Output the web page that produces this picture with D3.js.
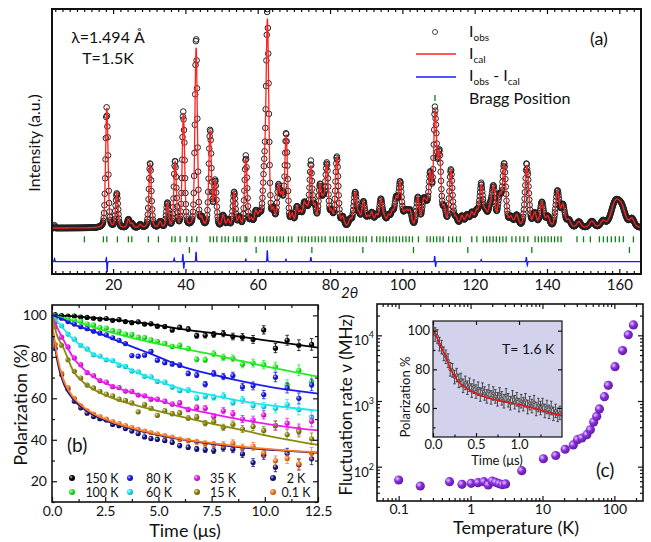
<!DOCTYPE html>
<html>
<head>
<meta charset="utf-8">
<script src="https://cdn.jsdelivr.net/npm/d3@7"></script>
<style>
  body { margin: 0; background: #fff; }
  text { font-family: Lato, "Open Sans", sans-serif; fill: #111; }
</style>
</head>
<body>
<div id="fig"></div>
<script>
// ---------------- panel (a): diffraction pattern ----------------
// peaks: [2theta, height (a.u.), fwhm (deg)]
const peaksA = [
  [18.26, 590, 0.8], [21.02, 165, 0.8], [24.23, 40, 0.8], [25.2, 20, 0.8], [27.5, 15, 0.8],
  [30.24, 315, 0.8], [33.0, 28, 0.8], [35.02, 118, 0.8], [37.15, 320, 0.8], [39.45, 555, 0.8],
  [42.96, 880, 0.8], [44.5, 35, 0.8], [46.83, 470, 0.85], [48.22, 220, 0.85], [50.43, 55, 0.85],
  [51.8, 35, 0.85], [53.47, 170, 0.85], [54.9, 45, 0.85], [56.71, 335, 0.85], [58.2, 35, 0.9],
  [59.47, 70, 0.9], [60.5, 55, 0.9], [61.77, 220, 0.9], [62.68, 995, 0.9], [64.3, 70, 0.9],
  [65.73, 185, 0.9], [66.67, 135, 0.9], [67.86, 440, 0.9], [69.5, 55, 0.9], [70.82, 90, 0.9],
  [71.8, 65, 0.9], [72.84, 100, 0.9], [73.6, 70, 0.9], [74.69, 290, 0.9], [75.8, 90, 0.9],
  [77.2, 190, 0.9], [78.1, 110, 0.9], [79.1, 300, 0.95], [80.4, 65, 0.95], [81.88, 340, 0.95],
  [83.5, 45, 0.95], [85.56, 35, 1.0], [86.94, 165, 1.0], [88.0, 55, 1.0], [89.24, 120, 1.0],
  [90.5, 45, 1.0], [91.56, 65, 1.0], [92.8, 55, 1.0], [94.05, 130, 1.0], [95.0, 40, 1.0],
  [96.15, 50, 1.0], [97.2, 65, 1.0], [98.28, 130, 1.0], [99.39, 210, 1.0], [100.6, 50, 1.0],
  [101.3, 55, 1.0], [102.16, 70, 1.0], [104.29, 140, 1.0], [105.84, 110, 1.0], [106.6, 80, 1.0],
  [107.69, 240, 1.0], [109.07, 545, 1.0], [110.26, 340, 1.0], [111.6, 80, 1.0], [113.42, 275, 1.0],
  [114.8, 40, 1.1], [116.46, 50, 1.1], [117.9, 55, 1.1], [119.22, 65, 1.1], [120.5, 70, 1.1],
  [121.8, 195, 1.1], [123.0, 65, 1.1], [124.2, 80, 1.1], [125.2, 185, 1.1], [126.9, 140, 1.1],
  [128.16, 300, 1.1], [130.0, 45, 1.2], [131.6, 55, 1.2], [134.44, 300, 1.2], [136.6, 65, 1.2],
  [138.59, 120, 1.2], [140.2, 50, 1.2], [142.9, 175, 1.2], [144.4, 105, 1.2], [146.0, 35, 1.3],
  [148.8, 28, 1.3], [152.42, 30, 1.5], [155.5, 30, 1.5], [158.86, 115, 2.8], [160.72, 80, 2.5],
  [163.5, 40, 1.5]
];
// Iobs - Ical spikes: [2theta, amplitude]
const residA = [
  [3.8, 14], [18.15, 22], [18.35, -52], [36.9, 16], [39.3, 38], [39.55, -34], [42.95, 48],
  [56.7, 12], [62.65, 55], [67.8, 12], [74.7, 22], [108.95, 28], [109.2, -26], [121.8, 10],
  [134.3, 22], [134.55, -18]
];
const braggMain = [
  12.06, 17.32, 18.26, 21.19, 24.23, 25.17, 29.76, 32.53, 36.24, 37.15, 38.53, 40.39, 41.77, 43.15,
  46.83, 47.75, 48.69, 50.07, 50.98, 51.89, 53.28, 54.22, 55.13, 56.51, 56.98, 59.28, 60.66, 61.58,
  62.52, 63.43, 64.34, 65.28, 66.2, 67.11, 68.49, 69.43, 71.26, 72.2, 73.11, 74.02, 74.97, 75.88,
  76.79, 77.73, 78.64, 80.03, 80.94, 81.88, 82.8, 83.7, 84.6, 85.5, 86.4, 87.3, 88.2, 89.1, 90.0,
  91.56, 92.9, 93.8, 94.7, 95.6, 96.5, 97.4, 98.3, 99.2, 100.1, 101.0, 101.9, 102.8, 104.45,
  106.8, 107.7, 108.6, 109.5, 110.4, 111.3, 112.8, 113.9, 115.0, 116.0, 119.2, 120.6, 122.4,
  123.3, 124.2, 125.1, 126.0, 126.9, 127.8, 128.7, 130.3, 131.4, 132.5, 133.6, 134.7, 136.7,
  137.6, 138.5, 139.4, 140.3, 141.2, 142.1, 143.0, 143.9, 148.3, 150.1, 152.0, 154.5, 155.6,
  156.7, 157.8, 158.9, 160.0, 161.1, 163.9
];
const braggSecond = [41.1, 59.56, 74.97, 89.07, 103.07, 118.1, 135.8, 162.8];
const ticksA = [20, 40, 60, 80, 100, 120, 140, 160];

// ---------------- panel (b): muSR polarization ----------------
const tempsB = ["150 K", "100 K", "80 K", "60 K", "35 K", "15 K", "2 K", "0.1 K"];
const colorsB = ["#000000", "#22ee22", "#1a1aee", "#1ae8ee", "#ee1aee", "#8a8a12", "#12128a", "#ff7a22"];
const timeB = [0.15, 0.45, 0.75, 1.05, 1.35, 1.65, 1.95, 2.25, 2.55, 2.85, 3.15, 3.45, 3.75, 4.05,
  4.35, 4.65, 4.95, 5.3, 5.65, 6.0, 6.4, 6.8, 7.2, 7.6, 8.05, 8.5, 8.95, 9.45, 9.95, 10.5, 11.05, 11.6, 12.2];
const errB = [0.3, 0.3, 0.35, 0.35, 0.4, 0.4, 0.45, 0.5, 0.5, 0.55, 0.6, 0.6, 0.65, 0.7, 0.75, 0.8,
  0.85, 0.9, 1.0, 1.05, 1.1, 1.2, 1.3, 1.4, 1.5, 1.6, 1.7, 1.9, 2.0, 2.2, 2.4, 2.6, 2.8];
const pol150K = [100.4, 99.9, 99.6, 99.7, 99.2, 99.0, 98.6, 98.2, 98.5, 97.6, 97.9, 97.0, 96.5, 96.9, 95.8,
  95.9, 94.8, 94.6, 93.0, 94.2, 93.4, 90.2, 90.4, 90.8, 91.2, 89.8, 89.5, 88.4, 93.0, 84.2, 88.0, 85.6, 86.0];
const pol100K = [99.9, 99.2, 98.8, 97.6, 97.2, 95.8, 95.4, 94.1, 93.9, 92.6, 92.3, 91.0, 90.8, 89.5, 89.3,
  88.2, 87.4, 86.5, 85.0, 85.6, 84.0, 78.8, 78.6, 81.5, 79.8, 79.3, 76.4, 77.0, 76.2, 75.2, 66.5, 73.5, 68.0];
const pol80K = [99.6, 98.6, 97.0, 95.8, 94.5, 93.6, 92.4, 91.4, 90.6, 89.2, 88.0, 86.4, 80.6, 80.3, 80.8,
  82.6, 78.4, 77.2, 76.6, 76.0, 72.0, 71.2, 66.8, 72.0, 70.5, 71.0, 65.5, 66.0, 61.8, 70.2, 65.0, 60.0, 66.5];
const pol60K = [98.5, 95.0, 91.0, 88.5, 85.6, 83.8, 81.0, 80.4, 78.6, 78.2, 76.0, 75.4, 73.2, 72.8, 70.6,
  70.4, 68.2, 67.8, 65.4, 63.8, 64.0, 60.2, 61.0, 60.5, 61.2, 58.0, 59.2, 56.5, 56.0, 55.2, 57.0, 54.6, 51.0];
const pol35K = [96.8, 89.5, 84.8, 79.5, 76.2, 72.4, 71.0, 68.6, 67.8, 65.6, 65.2, 63.5, 63.3, 61.6, 61.2,
  59.6, 59.6, 58.6, 57.2, 57.8, 54.6, 55.6, 55.2, 51.2, 54.0, 52.5, 50.0, 49.5, 52.0, 46.8, 48.0, 45.0, 49.0];
const pol15K = [94.5, 85.6, 78.6, 73.0, 69.8, 66.4, 65.0, 63.4, 62.0, 61.2, 59.6, 59.0, 57.8, 53.5, 57.0,
  55.2, 51.8, 54.0, 52.6, 53.0, 50.5, 51.0, 48.0, 48.8, 46.0, 47.5, 45.2, 46.4, 44.5, 47.0, 42.5, 44.0, 40.5];
const pol2K = [84.0, 71.5, 64.5, 58.6, 55.4, 52.8, 51.2, 50.2, 49.6, 47.4, 46.8, 45.4, 44.2, 43.0, 41.4,
  40.6, 40.2, 39.6, 38.8, 37.2, 36.4, 35.6, 35.2, 34.8, 36.0, 35.4, 33.2, 29.0, 32.6, 26.8, 33.5, 28.0, 30.8];
const pol01K = [86.0, 72.0, 65.2, 60.0, 56.4, 54.0, 52.4, 51.2, 50.0, 48.8, 47.8, 46.8, 45.9, 45.0, 44.2,
  43.4, 42.8, 41.9, 41.2, 40.2, 39.6, 39.0, 38.2, 37.8, 37.6, 38.4, 36.2, 36.8, 33.8, 30.0, 31.0, 28.4, 33.5];
// fitted curves, read at these times
const timeFitB = [0, 0.25, 0.5, 1, 1.5, 2, 3, 4, 5, 6, 7.5, 9, 10.5, 12.5];
const fit150K = [100, 99.9, 99.8, 99.6, 99.2, 98.8, 97.8, 96.6, 95.2, 93.5, 91.5, 89.5, 87.3, 84.4];
const fit100K = [100, 99.5, 98.8, 97.4, 95.8, 94.1, 91.2, 88.6, 86.2, 84.2, 81.2, 77.8, 74.4, 70.5];
const fit80K = [100, 99.2, 98.2, 95.6, 93.8, 92.2, 88.0, 84.0, 80.0, 75.8, 71.5, 68.0, 65.0, 62.3];
const fit60K = [100, 97, 94, 88.4, 84.5, 81.0, 77.2, 72.5, 68.3, 64.8, 61.5, 58.5, 56.3, 54.1];
const fit35K = [100, 94, 89, 79.6, 74.0, 70.0, 65.2, 62.0, 59.0, 56.0, 52.5, 49.5, 47.0, 44.5];
const fit15K = [100, 90, 85.2, 73.2, 67.5, 64.0, 59.5, 56.5, 53.8, 51.3, 47.8, 44.5, 41.2, 37.5];
const fit2K = [96, 78, 68.5, 59.5, 54.8, 51.6, 47.5, 44.6, 42.3, 40.3, 38.0, 36.2, 35.0, 33.7];
const fit01K = [97, 80, 70, 60.5, 55.6, 52.3, 48.0, 45.0, 42.6, 40.6, 38.4, 36.6, 35.3, 34.0];

// ---------------- panel (c): fluctuation rate ----------------
const tempC = [0.1, 0.2, 0.51, 0.76, 1.02, 1.27, 1.53, 1.76, 2.0, 2.23, 2.5, 2.77, 3.07, 5.15, 10.3,
  15.3, 20.7, 26.8, 30.7, 35.3, 41.4, 46.3, 51.5, 56.8, 61.9, 72.7, 82.3, 102, 130, 156, 184];
const rateC = [62.7, 50.8, 59, 53.8, 55.7, 57.1, 59, 52.6, 60.5, 57.7, 55.1, 53.2, 54.5, 87, 132,
  148, 184, 214, 258, 273, 307, 365, 478, 584, 756, 1163, 1730, 3330, 5850, 10200, 14400];
// inset: T = 1.6 K spectrum
const timeI = [0, 0.025, 0.05, 0.075, 0.1, 0.125, 0.15, 0.175, 0.2, 0.225, 0.25, 0.275, 0.3, 0.325, 0.35,
  0.375, 0.4, 0.425, 0.45, 0.475, 0.5, 0.525, 0.55, 0.575, 0.6, 0.625, 0.65, 0.675, 0.7, 0.725, 0.75,
  0.775, 0.8, 0.825, 0.85, 0.875, 0.9, 0.925, 0.95, 0.975, 1.0, 1.025, 1.05, 1.075, 1.1, 1.125, 1.15,
  1.175, 1.2, 1.225, 1.25, 1.275, 1.3, 1.325, 1.35, 1.375, 1.4, 1.425, 1.45, 1.475];
const polI = [101.5, 98, 97, 93, 91.5, 88, 86.5, 84.5, 80, 79.5, 76, 77, 74, 74.5, 71.5, 73, 70.5, 72,
  69, 71, 68.5, 70, 67, 69.5, 67.5, 66, 68.5, 65.5, 67.5, 66, 64.5, 67, 65, 63.5, 66.5, 64, 62.5, 65.5,
  63, 64.5, 61.5, 63.5, 62, 64, 60.5, 62.5, 61, 63, 59.5, 61.5, 60, 61.5, 58.5, 60.5, 58, 60, 57, 58.5,
  56.5, 57.5];
const timeFitI = [0, 0.05, 0.1, 0.15, 0.2, 0.25, 0.3, 0.4, 0.5, 0.6, 0.8, 1.0, 1.2, 1.5];
const fitI = [101, 96, 91, 86.5, 80.5, 76.5, 73.5, 70, 67.5, 65.8, 63.5, 61.8, 59.5, 56];

// ====================================================================
const W = 651, H = 542;
const svg = d3.select("#fig").append("svg").attr("width", W).attr("height", H);
const defs = svg.append("defs");

function ballGrad(id, c) {
  const g = defs.append("radialGradient").attr("id", id)
    .attr("cx", "35%").attr("cy", "35%").attr("r", "70%");
  g.append("stop").attr("offset", "0%").attr("stop-color", d3.interpolateRgb(c, "#fff")(0.75));
  g.append("stop").attr("offset", "45%").attr("stop-color", c);
  g.append("stop").attr("offset", "100%").attr("stop-color", d3.interpolateRgb(c, "#000")(0.35));
}
function clip(id, b) {
  defs.append("clipPath").attr("id", id).append("rect")
    .attr("x", b.x0).attr("y", b.y0).attr("width", b.x1 - b.x0).attr("height", b.y1 - b.y0);
}
function frame(b, w) {
  svg.append("rect").attr("x", b.x0).attr("y", b.y0).attr("width", b.x1 - b.x0)
    .attr("height", b.y1 - b.y0).attr("fill", "none").attr("stroke", "#111").attr("stroke-width", w);
}
function axisG(axis, tx, ty, size) {
  const g = svg.append("g").attr("transform", `translate(${tx},${ty})`).call(axis);
  g.select(".domain").remove();
  g.selectAll("line").attr("stroke", "#111").attr("stroke-width", 1.2);
  g.selectAll("text").attr("font-family", "Lato, sans-serif").attr("font-size", size).attr("fill", "#111");
  return g;
}

// ---------------- panel (a) ----------------
const boxA = {x0: 52, x1: 641, y0: 9, y1: 274};
const xA = d3.scaleLinear().domain([3.1, 166]).range([boxA.x0, boxA.x1]);
const yA = d3.scaleLinear().domain([-224, 1068]).range([boxA.y1, boxA.y0]);
const diffOffset = -164, braggRow1 = -55, braggRow2 = -107;

function profile(x) {
  let s = 0;
  for (const [c, h, w] of peaksA) {
    const d = (x - c) / w;
    if (Math.abs(d) > 40) continue;
    s += h * (0.7 * Math.exp(-4 * Math.LN2 * d * d) + 0.3 / (1 + 4 * d * d));
  }
  return s;
}
function resid(x) {
  let s = 0;
  for (const [c, a] of residA) {
    const d = (x - c) / 0.12;
    s += a * Math.exp(-d * d);
  }
  return s;
}
const gridA = d3.range(3.2, 165.9, 0.1);
const calcA = gridA.map(x => [x, profile(x)]);
const obsA = gridA.map(x => [x, profile(x) + resid(x)]);
const gridD = d3.range(3.2, 165.9, 0.05);
const diffA = gridD.map(x => [x, diffOffset + resid(x)]);

clip("clipA", boxA);
const gA = svg.append("g").attr("clip-path", "url(#clipA)");
gA.append("g").selectAll("circle").data(obsA).join("circle")
  .attr("cx", d => xA(d[0])).attr("cy", d => yA(d[1])).attr("r", 2.8)
  .attr("fill", "none").attr("stroke", "#222").attr("stroke-width", 1);
gA.append("path").datum(calcA)
  .attr("fill", "none").attr("stroke", "#ff2020").attr("stroke-width", 1.3)
  .attr("d", d3.line().x(d => xA(d[0])).y(d => yA(d[1])));
gA.append("path").datum(diffA)
  .attr("fill", "none").attr("stroke", "#1a1aff").attr("stroke-width", 1.3)
  .attr("d", d3.line().x(d => xA(d[0])).y(d => yA(d[1])));
gA.append("g").selectAll("line").data(braggMain).join("line")
  .attr("x1", d => xA(d)).attr("x2", d => xA(d))
  .attr("y1", yA(braggRow1) - 3).attr("y2", yA(braggRow1) + 3)
  .attr("stroke", "#127f12").attr("stroke-width", 1.3);
gA.append("g").selectAll("line").data(braggSecond).join("line")
  .attr("x1", d => xA(d)).attr("x2", d => xA(d))
  .attr("y1", yA(braggRow2) - 3).attr("y2", yA(braggRow2) + 3)
  .attr("stroke", "#127f12").attr("stroke-width", 1.3);

const minorA = d3.range(4, 166, 2).filter(v => v % 20 !== 0);
axisG(d3.axisBottom(xA).tickValues(ticksA).tickSize(-5).tickPadding(5).tickFormat(d3.format("d")), 0, boxA.y1, "15px");
axisG(d3.axisBottom(xA).tickValues(minorA).tickSize(-3).tickFormat(""), 0, boxA.y1, "15px");
axisG(d3.axisTop(xA).tickValues(ticksA).tickSize(-5).tickFormat(""), 0, boxA.y0, "15px");
axisG(d3.axisTop(xA).tickValues(minorA).tickSize(-3).tickFormat(""), 0, boxA.y0, "15px");
frame(boxA, 2);

svg.append("text").attr("x", 108).attr("y", 43).attr("text-anchor", "middle")
  .attr("font-size", "16px").text("λ=1.494 Å");
svg.append("text").attr("x", 108).attr("y", 64).attr("text-anchor", "middle")
  .attr("font-size", "16px").text("T=1.5K");
svg.append("text").attr("transform", "translate(40,143) rotate(-90)").attr("text-anchor", "middle")
  .attr("font-size", "16px").text("Intensity (a.u.)");
svg.append("text").attr("x", 341).attr("y", 298).attr("font-family", "DejaVu Serif, serif")
  .attr("font-style", "italic").attr("font-size", "15px").text("2θ");
svg.append("text").attr("x", 590).attr("y", 45).attr("font-size", "18px").text("(a)");

// legend (a)
svg.append("circle").attr("cx", 435).attr("cy", 32).attr("r", 2.5)
  .attr("fill", "none").attr("stroke", "#333").attr("stroke-width", 0.9);
svg.append("line").attr("x1", 416).attr("x2", 456).attr("y1", 54).attr("y2", 54)
  .attr("stroke", "#ff2020").attr("stroke-width", 1.3);
svg.append("line").attr("x1", 416).attr("x2", 456).attr("y1", 77).attr("y2", 77)
  .attr("stroke", "#1a1aff").attr("stroke-width", 1.3);
svg.append("line").attr("x1", 435).attr("x2", 435).attr("y1", 95).attr("y2", 101)
  .attr("stroke", "#127f12").attr("stroke-width", 1.3);
function subLabel(x, y, parts) {
  const t = svg.append("text").attr("x", x).attr("y", y).attr("font-size", "16px");
  let shift = 0;
  parts.forEach(([s, sub]) => {
    const want = sub ? 4 : 0;
    t.append("tspan").attr("dy", want - shift).attr("font-size", sub ? "10px" : "16px").text(s);
    shift = want;
  });
}
subLabel(469, 37, [["I", false], ["obs", true]]);
subLabel(469, 59, [["I", false], ["cal", true]]);
subLabel(469, 81, [["I", false], ["obs", true], [" - ", false], ["I", false], ["cal", true]]);
svg.append("text").attr("x", 469).attr("y", 104).attr("font-size", "16px").text("Bragg Position");

// ---------------- panel (b) ----------------
const boxB = {x0: 52, x1: 318, y0: 305, y1: 502};
const xB = d3.scaleLinear().domain([0, 12.5]).range([boxB.x0, boxB.x1]);
const yB = d3.scaleLinear().domain([10, 105]).range([boxB.y1, boxB.y0]);
const polsB = [pol150K, pol100K, pol80K, pol60K, pol35K, pol15K, pol2K, pol01K];
const fitsB = [fit150K, fit100K, fit80K, fit60K, fit35K, fit15K, fit2K, fit01K];
const seriesB = tempsB.map((name, i) => ({
  name, color: colorsB[i], id: "ballB" + i,
  pts: timeB.map((t, j) => ({t, v: polsB[i][j], e: errB[j]})),
  fit: timeFitB.map((t, j) => ({t, v: fitsB[i][j]}))
}));
seriesB.forEach(s => ballGrad(s.id, s.color));

clip("clipB", boxB);
const gB = svg.append("g").attr("clip-path", "url(#clipB)");
const lineB = d3.line().curve(d3.curveMonotoneX).x(d => xB(d.t)).y(d => yB(d.v));
seriesB.forEach(s => {
  const g = gB.append("g");
  g.selectAll("line.err").data(s.pts).join("line").attr("class", "err")
    .attr("x1", d => xB(d.t)).attr("x2", d => xB(d.t))
    .attr("y1", d => yB(d.v - d.e)).attr("y2", d => yB(d.v + d.e))
    .attr("stroke", s.color).attr("stroke-width", 0.8);
  g.selectAll("path.cap").data(s.pts).join("path").attr("class", "cap")
    .attr("d", d => `M${xB(d.t) - 1.8},${yB(d.v - d.e)}h3.6M${xB(d.t) - 1.8},${yB(d.v + d.e)}h3.6`)
    .attr("stroke", s.color).attr("stroke-width", 0.8);
  g.selectAll("circle").data(s.pts).join("circle")
    .attr("cx", d => xB(d.t)).attr("cy", d => yB(d.v)).attr("r", 2.6)
    .attr("fill", `url(#${s.id})`);
});
seriesB.forEach(s => {
  gB.append("path").datum(s.fit).attr("fill", "none")
    .attr("stroke", s.color).attr("stroke-width", 1.8).attr("d", lineB);
});

const majB = [0, 2.5, 5, 7.5, 10, 12.5], minB = [1.25, 3.75, 6.25, 8.75, 11.25];
const majBy = [20, 40, 60, 80, 100], minBy = [10, 30, 50, 70, 90];
axisG(d3.axisBottom(xB).tickValues(majB).tickSize(-5).tickPadding(4).tickFormat(d3.format(".1f")), 0, boxB.y1, "14px");
axisG(d3.axisBottom(xB).tickValues(minB).tickSize(-3).tickFormat(""), 0, boxB.y1, "14px");
axisG(d3.axisTop(xB).tickValues(majB).tickSize(-5).tickFormat(""), 0, boxB.y0, "14px");
axisG(d3.axisTop(xB).tickValues(minB).tickSize(-3).tickFormat(""), 0, boxB.y0, "14px");
axisG(d3.axisLeft(yB).tickValues(majBy).tickSize(-5).tickPadding(5), boxB.x0, 0, "14px");
axisG(d3.axisLeft(yB).tickValues(minBy).tickSize(-3).tickFormat(""), boxB.x0, 0, "14px");
axisG(d3.axisRight(yB).tickValues(majBy).tickSize(-5).tickFormat(""), boxB.x1, 0, "14px");
axisG(d3.axisRight(yB).tickValues(minBy).tickSize(-3).tickFormat(""), boxB.x1, 0, "14px");
frame(boxB, 1.6);

svg.append("text").attr("x", 185).attr("y", 537).attr("text-anchor", "middle")
  .attr("font-size", "18px").text("Time (μs)");
svg.append("text").attr("transform", "translate(27,405) rotate(-90)").attr("text-anchor", "middle")
  .attr("font-size", "18px").text("Polarization (%)");
svg.append("text").attr("x", 67).attr("y", 452).attr("font-size", "19px").text("(b)");

// legend (b)
const legMarkX = [72, 130, 197, 273], legTextX = [102, 159, 223, 296], legY = [478, 492];
const legB = svg.append("g");
seriesB.forEach((s, i) => {
  const col = Math.floor(i / 2), row = i % 2;
  legB.append("circle").attr("cx", legMarkX[col]).attr("cy", legY[row]).attr("r", 3)
    .attr("fill", `url(#${s.id})`);
  legB.append("text").attr("x", legTextX[col]).attr("y", legY[row] + 4.5)
    .attr("text-anchor", "middle").attr("font-size", "12.5px").text(s.name);
});

// ---------------- panel (c) ----------------
const boxC = {x0: 377, x1: 643, y0: 304, y1: 501};
const xC = d3.scaleLog().domain([0.05, 250]).range([boxC.x0, boxC.x1]);
const yC = d3.scaleLog().domain([30, 30000]).range([boxC.y1, boxC.y0]);
const majCx = [0.1, 1, 10, 100];
const minCx = [];
[0.01, 0.1, 1, 10, 100].forEach(dec => { for (let k = 2; k <= 9; k++) { const v = dec * k; if (v > 0.05 && v < 250) minCx.push(v); } });
const majCy = [100, 1000, 10000];
const minCy = [];
[10, 100, 1000, 10000].forEach(dec => { for (let k = 2; k <= 9; k++) { const v = dec * k; if (v > 30 && v < 30000) minCy.push(v); } });

axisG(d3.axisBottom(xC).tickValues(majCx).tickSize(-5).tickPadding(3).tickFormat(d => String(d)), 0, boxC.y1, "14px");
axisG(d3.axisBottom(xC).tickValues(minCx).tickSize(-3).tickFormat(""), 0, boxC.y1, "14px");
axisG(d3.axisTop(xC).tickValues(majCx).tickSize(-5).tickFormat(""), 0, boxC.y0, "14px");
axisG(d3.axisTop(xC).tickValues(minCx).tickSize(-3).tickFormat(""), 0, boxC.y0, "14px");
axisG(d3.axisLeft(yC).tickValues(majCy).tickSize(-5).tickFormat(""), boxC.x0, 0, "14px");
axisG(d3.axisLeft(yC).tickValues(minCy).tickSize(-3).tickFormat(""), boxC.x0, 0, "14px");
axisG(d3.axisRight(yC).tickValues(majCy).tickSize(-5).tickFormat(""), boxC.x1, 0, "14px");
axisG(d3.axisRight(yC).tickValues(minCy).tickSize(-3).tickFormat(""), boxC.x1, 0, "14px");
majCy.forEach(v => {
  const t = svg.append("text").attr("x", boxC.x0 - 3).attr("y", yC(v) + 10)
    .attr("text-anchor", "end").attr("font-size", "13px");
  t.append("tspan").text("10");
  t.append("tspan").attr("dy", -7).attr("font-size", "9px").text(String(Math.round(Math.log10(v))));
});

// inset
const boxI = {x0: 433, x1: 562, y0: 321, y1: 437};
const xI = d3.scaleLinear().domain([0, 1.5]).range([boxI.x0, boxI.x1]);
const yI = d3.scaleLinear().domain([45, 105]).range([boxI.y1, boxI.y0]);
svg.append("rect").attr("x", boxI.x0).attr("y", boxI.y0).attr("width", boxI.x1 - boxI.x0)
  .attr("height", boxI.y1 - boxI.y0).attr("fill", "#d2d2ec");
clip("clipI", boxI);
const gI = svg.append("g").attr("clip-path", "url(#clipI)");
const ptsI = timeI.map((t, j) => ({t, v: polI[j], e: 3.5}));
gI.append("g").selectAll("line").data(ptsI).join("line")
  .attr("x1", d => xI(d.t)).attr("x2", d => xI(d.t))
  .attr("y1", d => yI(d.v - d.e)).attr("y2", d => yI(d.v + d.e))
  .attr("stroke", "#3a3a3a").attr("stroke-width", 0.9);
gI.append("g").selectAll("path").data(ptsI).join("path")
  .attr("d", d => `M${xI(d.t) - 1.3},${yI(d.v - d.e)}h2.6M${xI(d.t) - 1.3},${yI(d.v + d.e)}h2.6`)
  .attr("stroke", "#3a3a3a").attr("stroke-width", 0.9);
gI.append("g").selectAll("circle").data(ptsI).join("circle")
  .attr("cx", d => xI(d.t)).attr("cy", d => yI(d.v)).attr("r", 1.4)
  .attr("fill", "#999").attr("stroke", "#333").attr("stroke-width", 0.7);
gI.append("path").datum(timeFitI.map((t, j) => ({t, v: fitI[j]})))
  .attr("fill", "none").attr("stroke", "#ee1111").attr("stroke-width", 1.5)
  .attr("d", d3.line().curve(d3.curveMonotoneX).x(d => xI(d.t)).y(d => yI(d.v)));
axisG(d3.axisBottom(xI).tickValues([0, 0.5, 1.0]).tickSize(-4).tickPadding(3).tickFormat(d3.format(".1f")), 0, boxI.y1, "13px");
axisG(d3.axisBottom(xI).tickValues([0.25, 0.75, 1.25]).tickSize(-2.5).tickFormat(""), 0, boxI.y1, "13px");
axisG(d3.axisTop(xI).tickValues([0, 0.5, 1.0]).tickSize(-4).tickFormat(""), 0, boxI.y0, "13px");
axisG(d3.axisLeft(yI).tickValues([60, 80, 100]).tickSize(-4).tickPadding(3), boxI.x0, 0, "13px");
axisG(d3.axisLeft(yI).tickValues([50, 70, 90]).tickSize(-2.5).tickFormat(""), boxI.x0, 0, "13px");
axisG(d3.axisRight(yI).tickValues([60, 80, 100]).tickSize(-4).tickFormat(""), boxI.x1, 0, "13px");
frame(boxI, 1.2);
svg.append("text").attr("x", 502).attr("y", 354).attr("font-size", "14px").text("T= 1.6 K");
svg.append("text").attr("x", 497).attr("y", 465).attr("text-anchor", "middle")
  .attr("font-size", "13px").text("Time (μs)");
svg.append("text").attr("transform", "translate(410,397) rotate(-90)").attr("text-anchor", "middle")
  .attr("font-size", "13px").text("Polarization %");

// points (c)
ballGrad("ballC", "#8a2be2");
svg.append("g").selectAll("circle").data(tempC.map((t, j) => ({t, v: rateC[j]}))).join("circle")
  .attr("cx", d => xC(d.t)).attr("cy", d => yC(d.v)).attr("r", 4.6)
  .attr("fill", "url(#ballC)");
frame(boxC, 1.6);

svg.append("text").attr("x", 516).attr("y", 534).attr("text-anchor", "middle")
  .attr("font-size", "18px").text("Temperature (K)");
svg.append("text").attr("transform", "translate(352,405) rotate(-90)").attr("text-anchor", "middle")
  .attr("font-size", "17px").text("Fluctuation rate ν (MHz)");
svg.append("text").attr("x", 596).attr("y", 477).attr("font-size", "19px").text("(c)");
</script>
</body>
</html>
